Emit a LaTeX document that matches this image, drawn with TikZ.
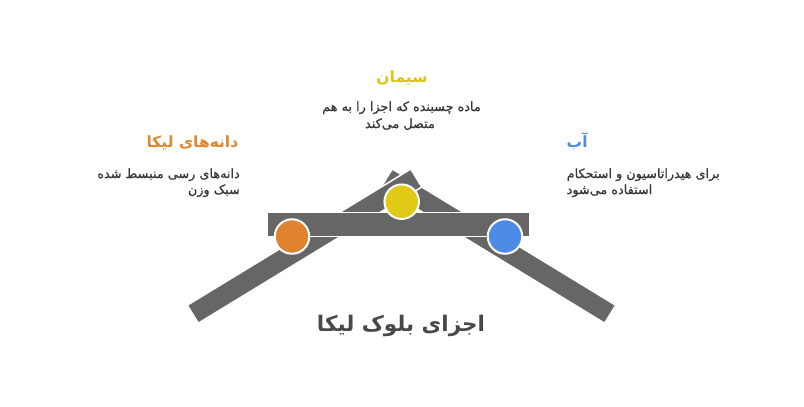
\documentclass[tikz,border=0pt]{standalone}
\usepackage{fontspec}
\newfontfamily\arabicfont[Script=Arabic]{DejaVu Sans}
\newfontfamily\arabicdesc[Script=Arabic, FakeBold=0.8]{DejaVu Sans}
\TeXXeTstate=1
\definecolor{beamgray}{RGB}{102,102,102}
\definecolor{lorange}{RGB}{224,131,47}
\definecolor{lyellow}{RGB}{224,202,22}
\definecolor{lblue}{RGB}{76,139,232}
\definecolor{htorange}{RGB}{224,134,46}
\definecolor{htyellow}{RGB}{218,196,22}
\definecolor{htblue}{RGB}{76,139,232}
\definecolor{desc}{RGB}{58,54,50}
\definecolor{titlegray}{RGB}{72,72,72}
\begin{document}
\begin{tikzpicture}[x=1pt,y=-1pt,
  beamshape/.style={fill=beamgray, draw=white, line width=1.5pt, line join=miter},
  dot/.style={circle, draw=white, line width=2pt, minimum size=34.5pt, inner sep=0pt},
  lbl/.style={inner sep=0pt, font=\arabicfont},
  headlbl/.style={lbl, font=\arabicfont\bfseries\fontsize{15.5}{18}\selectfont},
  desclbl/.style={lbl, text=desc, font=\arabicdesc\fontsize{12.8}{15}\selectfont},
]
\useasboundingbox (0,0) rectangle (804,407);
% right beam (behind)
\filldraw[beamshape] (615.7,305.2) -- (604.7,323.2) -- (381.2,187.0) -- (392.2,169.0) -- cycle;
% left beam (on top)
\filldraw[beamshape] (187.3,305.2) -- (198.3,323.2) -- (421.8,187.0) -- (410.8,169.0) -- cycle;
% horizontal bar
\filldraw[beamshape] (267.5,212.5) rectangle (529.5,236.5);
% circles
\node[dot, fill=lorange] (corange) at (292,236.5) {};
\node[dot, fill=lyellow] (cyellow) at (401.7,201.7) {};
\node[dot, fill=lblue] (cblue) at (505,236.5) {};
% title
\node[lbl, anchor=base, text=titlegray, font=\arabicfont\bfseries\fontsize{21.5}{26}\selectfont] (title) at (401,331) {\beginR اجزای بلوک لیکا\endR};
% cement
\node[headlbl, anchor=base, text=htyellow] (cemh) at (402,82.5) {\beginR سیمان\endR};
\node[desclbl, anchor=base] (cemd1) at (401.5,111) {\beginR ماده چسبنده که اجزا را به هم\endR};
\node[desclbl, anchor=base] (cemd2) at (400,128) {\beginR متصل می‌کند\endR};
% leca
\node[headlbl, anchor=base east, text=htorange] (lich) at (238.5,147) {\beginR دانه‌های لیکا\endR};
\node[desclbl, anchor=base east] (licd1) at (240,178) {\beginR دانه‌های رسی منبسط شده\endR};
\node[desclbl, anchor=base east] (licd2) at (240,194) {\beginR سبک وزن\endR};
% water
\node[headlbl, anchor=base west, text=htblue] (abh) at (566.5,147) {\beginR آب\endR};
\node[desclbl, anchor=base west] (abd1) at (566.5,178) {\beginR برای هیدراتاسیون و استحکام\endR};
\node[desclbl, anchor=base west] (abd2) at (566.5,194) {\beginR استفاده می‌شود\endR};
\end{tikzpicture}
\end{document}
